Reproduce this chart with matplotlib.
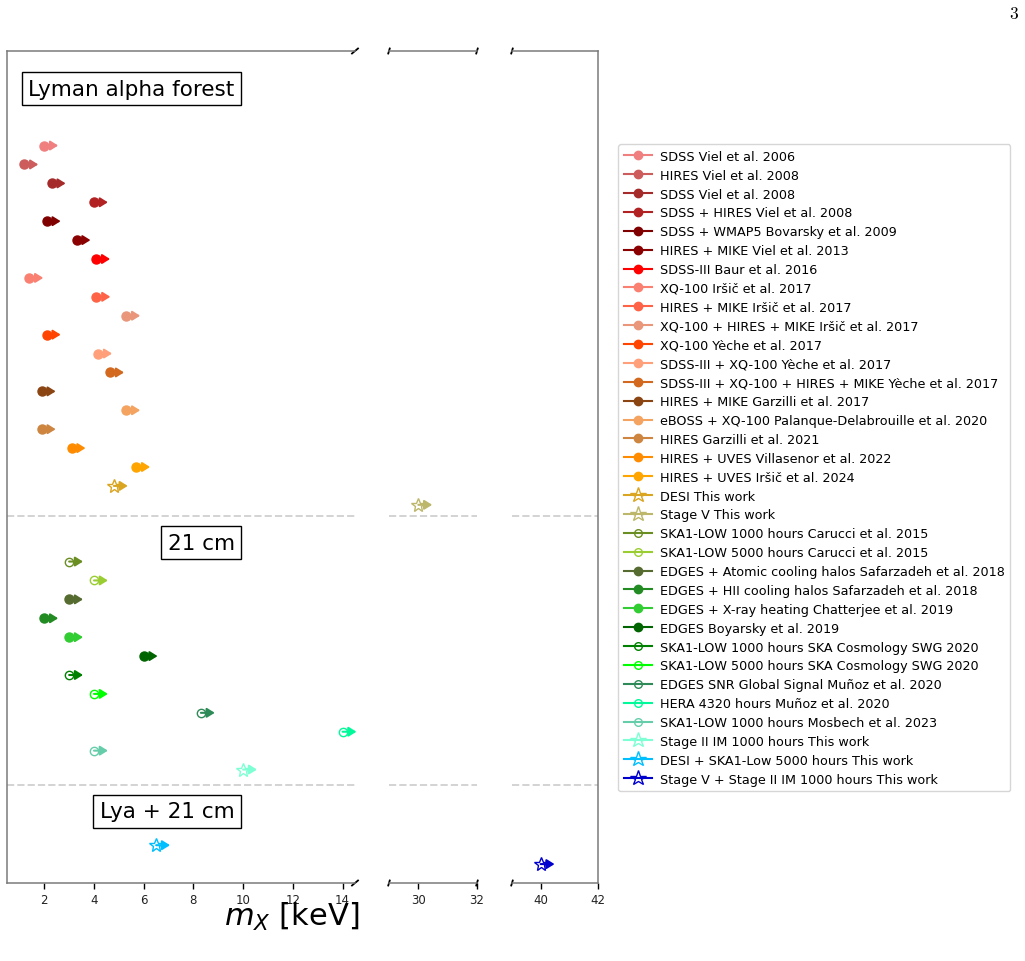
import numpy as np
import matplotlib
matplotlib.use("Agg")
import matplotlib.pyplot as plt
from matplotlib.lines import Line2D

# ---------------- data ----------------
lya_labels = [
    "SDSS Viel et al. 2006",
    "HIRES Viel et al. 2008",
    "SDSS Viel et al. 2008",
    "SDSS + HIRES Viel et al. 2008",
    "SDSS + WMAP5 Bovarsky et al. 2009",
    "HIRES + MIKE Viel et al. 2013",
    "SDSS-III Baur et al. 2016",
    "XQ-100 Iršič et al. 2017",
    "HIRES + MIKE Iršič et al. 2017",
    "XQ-100 + HIRES + MIKE Iršič et al. 2017",
    "XQ-100 Yèche et al. 2017",
    "SDSS-III + XQ-100 Yèche et al. 2017",
    "SDSS-III + XQ-100 + HIRES + MIKE Yèche et al. 2017",
    "HIRES + MIKE Garzilli et al. 2017",
    "eBOSS + XQ-100 Palanque-Delabrouille et al. 2020",
    "HIRES Garzilli et al. 2021",
    "HIRES + UVES Villasenor et al. 2022",
    "HIRES + UVES Iršič et al. 2024",
    "DESI This work",
    "Stage V This work",
]
lya_mx = [2.0, 1.2, 2.3, 4.0, 2.1, 3.3, 4.09, 1.4, 4.1, 5.3, 2.1, 4.17,
          4.65, 1.9, 5.3, 1.9, 3.1, 5.7, 4.8, 30.0]
lya_colors = ["lightcoral", "indianred", "brown", "firebrick", "maroon",
              "darkred", "red", "salmon", "tomato", "darksalmon", "orangered",
              "lightsalmon", "chocolate", "saddlebrown", "sandybrown", "peru",
              "darkorange", "orange", "goldenrod", "darkkhaki"]
lya_kinds = ["filled"] * 18 + ["star", "star"]

cm_labels = [
    "SKA1-LOW 1000 hours Carucci et al. 2015",
    "SKA1-LOW 5000 hours Carucci et al. 2015",
    "EDGES + Atomic cooling halos Safarzadeh et al. 2018",
    "EDGES + HII cooling halos Safarzadeh et al. 2018",
    "EDGES + X-ray heating Chatterjee et al. 2019",
    "EDGES Boyarsky et al. 2019",
    "SKA1-LOW 1000 hours SKA Cosmology SWG 2020",
    "SKA1-LOW 5000 hours SKA Cosmology SWG 2020",
    "EDGES SNR Global Signal Muñoz et al. 2020",
    "HERA 4320 hours Muñoz et al. 2020",
    "SKA1-LOW 1000 hours Mosbech et al. 2023",
    "Stage II IM 1000 hours This work",
]
cm_mx = [3.0, 4.0, 3.0, 2.0, 3.0, 6.0, 3.0, 4.0, 8.3, 14.0, 4.0, 10.0]
cm_colors = ["olivedrab", "yellowgreen", "darkolivegreen", "forestgreen",
             "limegreen", "darkgreen", "green", "lime", "seagreen",
             "mediumspringgreen", "mediumaquamarine", "aquamarine"]
cm_kinds = ["open", "open", "filled", "filled", "filled", "filled",
            "open", "open", "open", "open", "open", "star"]

comb_labels = ["DESI + SKA1-Low 5000 hours This work",
               "Stage V + Stage II IM 1000 hours This work"]
comb_mx = [6.5, 40.0]
comb_colors = ["deepskyblue", "mediumblue"]
comb_kinds = ["star", "star"]

section_titles = ["Lyman alpha forest", "21 cm", "Lya + 21 cm"]
xlims = [(0.5, 14.5), (29, 32), (39, 42)]
xticks = [[2, 4, 6, 8, 10, 12, 14], [30, 32], [40, 42]]

# ---------------- layout ----------------
W, H = 1025, 962
fig = plt.figure(figsize=(W / 100, H / 100), dpi=100)

def px_axes(x0, x1, y0, y1):
    return fig.add_axes([x0 / W, 1 - y1 / H, (x1 - x0) / W, (y1 - y0) / H])

axes = [px_axes(7, 355, 52, 884), px_axes(389, 477, 52, 884),
        px_axes(512, 598, 52, 884)]

lya_rows = np.arange(len(lya_mx))
cm_rows = lya_rows[-1] + 3 + np.arange(len(cm_mx))
comb_rows = cm_rows[-1] + 4 + np.arange(len(comb_mx))

styles = {
    "filled": dict(marker="o", ms=6.5, mew=1.0, fill=True),
    "open": dict(marker="o", ms=6.0, mew=1.0, fill=False),
    "star": dict(marker="*", ms=10.5, mew=1.0, fill=False),
}
legend_ms = {"filled": 6.0, "open": 5.5, "star": 11.5}

spine_col = "#7a7a7a"
groups = [(lya_mx, lya_rows, lya_colors, lya_kinds),
          (cm_mx, cm_rows, cm_colors, cm_kinds),
          (comb_mx, comb_rows, comb_colors, comb_kinds)]

for i, ax in enumerate(axes):
    ax.set_xlim(*xlims[i])
    ax.set_ylim(comb_rows[-1] + 1, -5)
    ax.set_xticks(xticks[i])
    ax.set_yticks([])
    ax.tick_params(axis="x", labelsize=8.5, length=4, width=1, pad=3,
                   color="black", labelcolor="#222222")
    for s in ax.spines.values():
        s.set_color(spine_col)
        s.set_linewidth(1.1)
    ax.spines["right"].set_visible(i == 2)
    ax.spines["left"].set_visible(i == 0)
    for yl in (lya_rows[-1] + 0.6, cm_rows[-1] + 0.8):
        ax.axhline(yl, color="lightgray", ls="--", lw=1.4, zorder=1)
    for mx, rows, cols, kinds in groups:
        for v, r, c, k in zip(mx, rows, cols, kinds):
            st = styles[k]
            ax.plot([v], [r], marker=st["marker"], ms=st["ms"], mew=st["mew"],
                    mec=c, mfc=c if st["fill"] else "none", ls="none",
                    zorder=3)
            ax.annotate("", xy=(v, r), xycoords="data",
                        xytext=(10, 0), textcoords="offset points",
                        arrowprops=dict(arrowstyle="<|-,head_length=0.45,head_width=0.28",
                                        color=c, lw=1.5, shrinkA=0, shrinkB=0),
                        zorder=4)
    # break marks
    dx = 3.0 / ((axes[i].get_position().width) * W)
    dy = 2.5 / (axes[i].get_position().height * H)
    kw = dict(transform=ax.transAxes, color="black", lw=1.3, clip_on=False)
    ends = []
    if i in (0, 1):
        ends.append(1)
    if i in (1, 2):
        ends.append(0)
    for xe in ends:
        for ye in (0, 1):
            d = dx if i == 0 else dx * 0.25
            ax.plot([xe - d, xe + d], [ye - dy, ye + dy], **kw)

# section labels
bbox = dict(boxstyle="square,pad=0.3", fc="white", ec="black", lw=1)
title_rows = [lya_rows[0] - 3, cm_rows[0] - 1, comb_rows[0] - 1.8]
for t, yr in zip(section_titles, title_rows):
    axes[0].text(9.66, yr, t, ha="right", va="center", fontsize=15.5,
                 bbox=bbox, zorder=5)

fig.text(292 / W, 1 - 917 / H, r"$m_X$ [keV]", ha="center", va="center",
         fontsize=22)
fig.text(1014 / W, 1 - 14.5 / H, "3", ha="center", va="center",
         fontsize=12.5, family="cmr10")

# legend
all_labels = lya_labels + cm_labels + comb_labels
all_colors = lya_colors + cm_colors + comb_colors
all_kinds = lya_kinds + cm_kinds + comb_kinds
handles = []
for lab, c, k in zip(all_labels, all_colors, all_kinds):
    st = styles[k]
    handles.append(Line2D([], [], color=c, lw=1.5, marker=st["marker"],
                          ms=legend_ms[k], mew=1.0, mec=c,
                          mfc=c if st["fill"] else "none", label=lab))
fig.legend(handles=handles, loc="upper left",
           bbox_to_anchor=(618 / W, 1 - 145 / H), borderaxespad=0,
           fontsize=9.2, labelspacing=0.46, handlelength=2.2,
           handletextpad=0.6, borderpad=0.45, frameon=True)

fig.savefig("out.png", dpi=100)
